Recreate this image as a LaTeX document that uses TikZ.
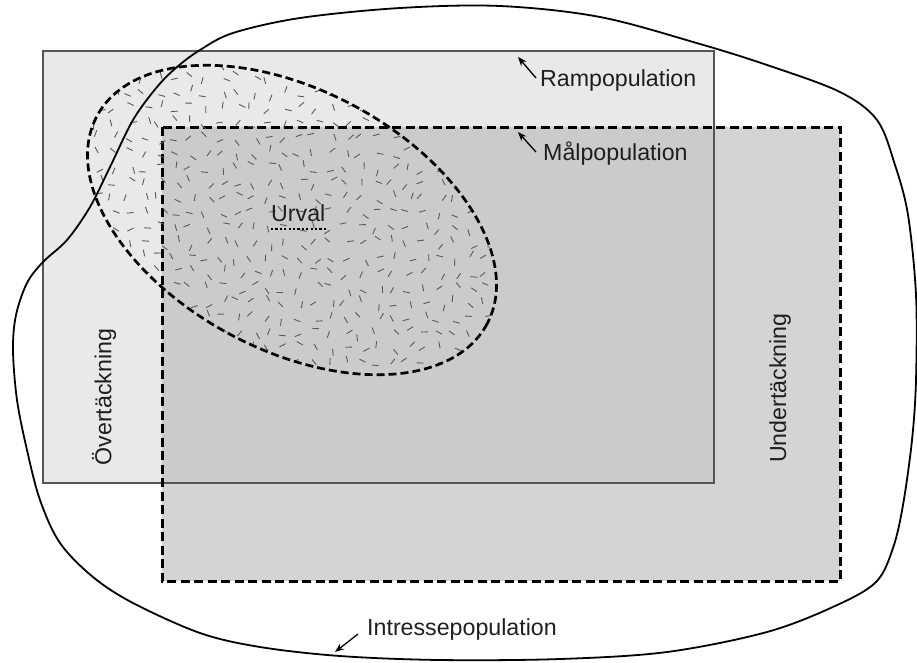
\documentclass[tikz,border=0pt]{standalone}
\usepackage{fontspec}
\setmainfont{Liberation Sans}
\usetikzlibrary{arrows.meta}
\definecolor{rampfill}{HTML}{E9E9E9}
\definecolor{malfill}{HTML}{D4D4D4}
\definecolor{bothfill}{HTML}{CBCBCB}
\definecolor{rampline}{HTML}{555555}
\definecolor{speckcol}{HTML}{5A5A5A}
\tikzset{
  lab/.style={font=\fontsize{23.2}{28}\selectfont, inner sep=0pt, text=black!88},
  rampbox/.style={draw=rampline, line width=1.6pt},
  malbox/.style={draw=black, line width=3pt, dash pattern=on 9pt off 4.5pt},
  urvalline/.style={draw=black, line width=2.7pt, dash pattern=on 8pt off 4pt},
  blobline/.style={draw=black, line width=1.8pt},
  speck/.style={draw=speckcol, line width=0.9pt},
  arr/.style={draw=black, line width=1.3pt, -{Stealth[length=9pt,width=7pt]}},
}
\begin{document}
\begin{tikzpicture}[x=1pt,y=-1pt]
\useasboundingbox (0,0) rectangle (917,662);
% Rampopulation (frame) fill
\fill[rampfill] (43,51) rectangle (714,483);
% Malpopulation fill
\fill[malfill] (162,127) rectangle (840,581);
\fill[bothfill] (162,127) rectangle (714,483);
% Rampopulation border
\draw[rampbox] (43,51) rectangle (714,483);
% Malpopulation border
\draw[malbox] (162,127) rectangle (840,581);
% sample speckles
\begin{scope}
\clip[rotate around={-28:(292,220)}] (292,220) ellipse [x radius=221, y radius=130];
\pgfmathsetseed{11}
\foreach \i in {0,...,27}{
  \foreach \j in {0,...,21}{
    \pgfmathsetmacro{\px}{78+\i*15.5+rnd*10}
    \pgfmathsetmacro{\py}{58+\j*15+rnd*10}
    \pgfmathsetmacro{\ang}{rnd*360}
    \draw[speck, shift={(\px,\py)}] (\ang:3.4) -- (\ang+180:3.4);
  }
}
\end{scope}
% Urval ellipse border
\draw[urvalline, rotate around={-28:(292,220)}] (292,220) ellipse [x radius=221, y radius=130];
% Intressepopulation blob
\draw[blobline] plot[smooth cycle, tension=0.55] coordinates {
(400,8) (500,6) (600,17) (700,44) (770,66) (840,92) (877,120) (895,165)
(908,215) (916,295) (916,380) (912,440) (903,505) (893,548) (876,582)
(835,606) (767,632) (667,652) (560,659) (440,660) (340,656) (260,647)
(200,633) (133,603) (93,577) (60,543) (40,500) (27,450) (17,400) (13,350)
(16,315) (27,283) (43,262) (67,240) (90,207) (110,167) (133,120) (157,87)
(177,67) (200,50) (233,33) (300,18)};
% labels
\node[lab, anchor=base west] (rlab) at (540,86) {Rampopulation};
\node[lab, anchor=base west] (mlab) at (543,160) {Målpopulation};
\node[lab, anchor=base west] (ulab) at (271,221) {Urval};
\node[lab, anchor=base west] (ilab) at (367,635) {Intressepopulation};
\node[lab, rotate=90] (olab) at (104,397) {Övertäckning};
\node[lab, rotate=90] (dlab) at (780,388) {Undertäckning};
% arrows
\coordinate (rtip) at (518,57);
\coordinate (mtip) at (518,132);
\coordinate (itip) at (335,652);
\draw[arr] ([xshift=-4pt,yshift=2pt]rlab.west) -- (rtip);
\draw[arr] ([xshift=-7pt,yshift=1pt]mlab.west) -- (mtip);
\draw[arr] ([xshift=-9pt,yshift=-5pt]ilab.west) -- (itip);
% dotted underline under Urval
\draw[black, line width=2.2pt, dash pattern=on 2.2pt off 2.2pt] ([yshift=-8pt]ulab.base west) -- ([yshift=-8pt]ulab.base east);
\end{tikzpicture}
\end{document}
